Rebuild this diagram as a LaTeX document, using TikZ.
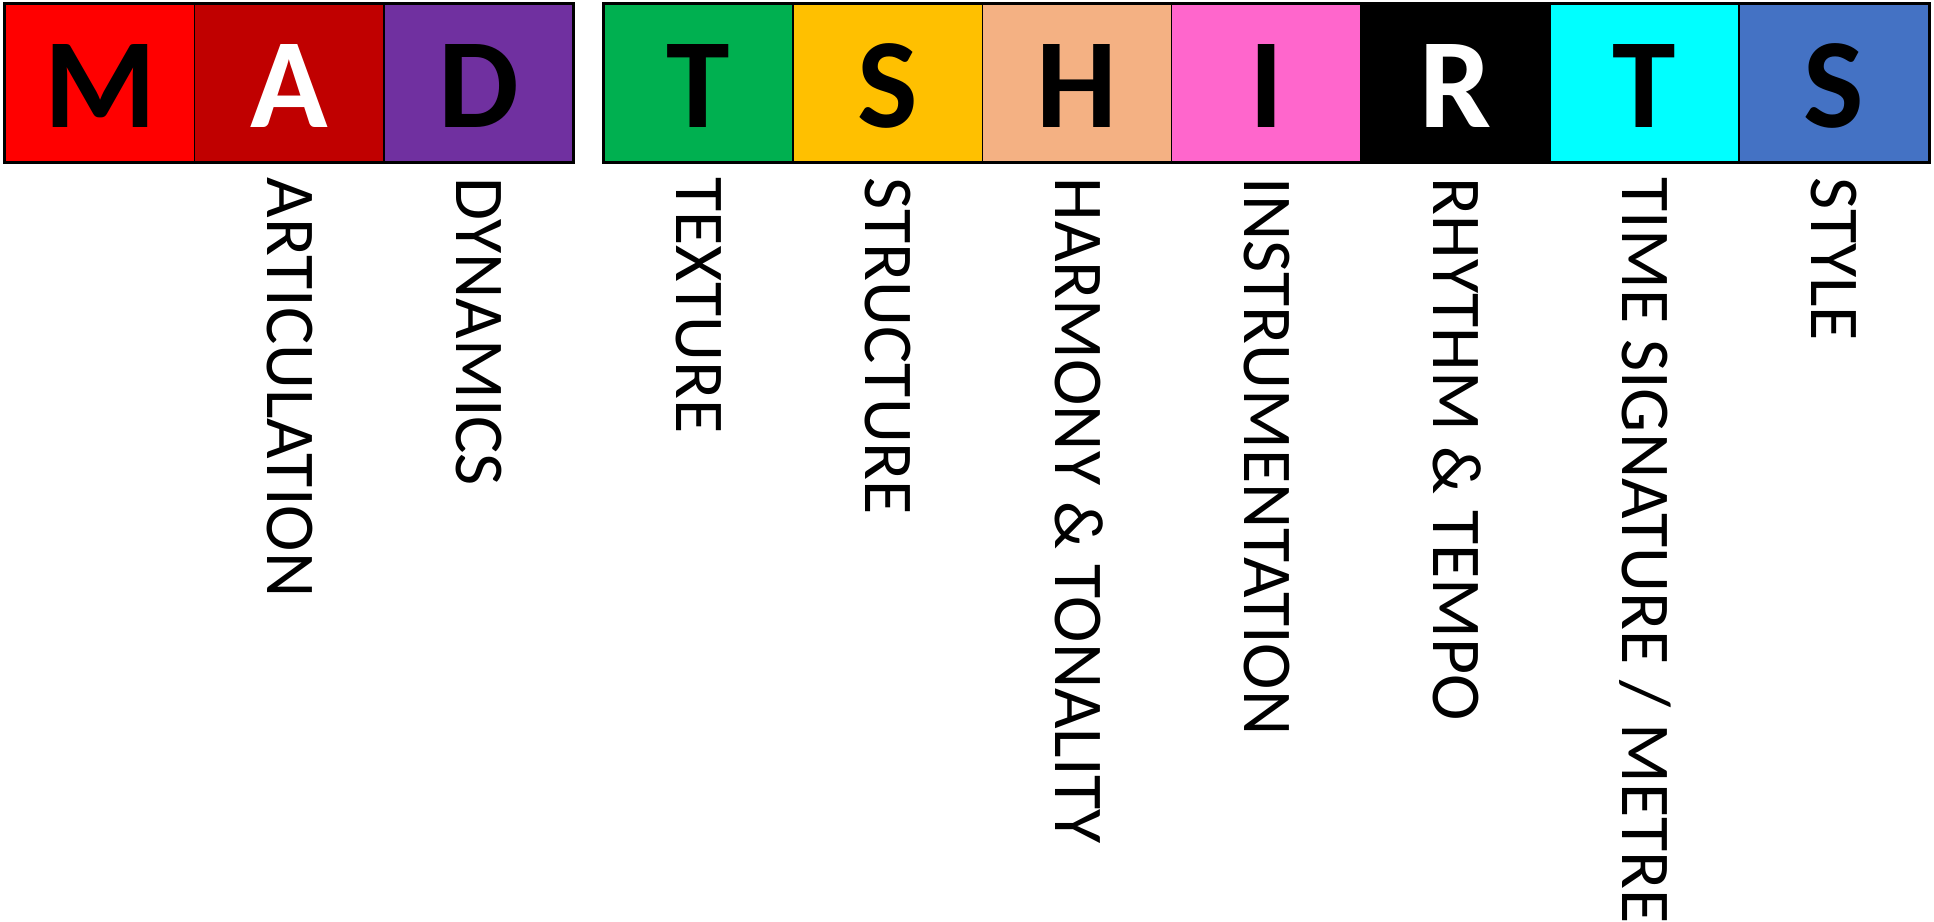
\documentclass[tikz,border=0pt]{standalone}
\usepackage{fontspec}
\setmainfont{Carlito}
\definecolor{madM}{HTML}{FF0000}
\definecolor{madA}{HTML}{C00000}
\definecolor{madD}{HTML}{7030A0}
\definecolor{shT}{HTML}{00B050}
\definecolor{shS}{HTML}{FFC000}
\definecolor{shH}{HTML}{F4B183}
\definecolor{shI}{HTML}{FF66CC}
\definecolor{shR}{HTML}{000000}
\definecolor{shTb}{HTML}{00FFFF}
\definecolor{shSb}{HTML}{4472C4}
\tikzset{
  letterbox/.style={draw=black, line width=0.45pt, inner sep=0pt,
    minimum width=1.892cm, minimum height=1.58cm,
    text height=0.88cm, text depth=0pt,
    font=\fontsize{36.4pt}{38pt}\selectfont\bfseries},
  labeltext/.style={rotate=-90, anchor=west, inner sep=0pt,
    text height=0.44cm, text depth=0pt,
    font=\fontsize{19.9pt}{20pt}\selectfont},
  groupframe/.style={draw=black, line width=0.7pt}
}
\begin{document}
\begin{tikzpicture}[x=0.01cm, y=-0.01cm]
    \useasboundingbox (0,0) rectangle (1934,922);
    % MAD boxes
    \foreach \i/\fillc/\ink/\letter in {1/madM/black/M, 2/madA/white/A, 3/madD/black/D}
    {
        \node[letterbox, fill=\fillc, text=\ink] (mad\i) at ({100.1+189.2*(\i-1)}, 83) {\letter};
    }
    \draw[groupframe] (mad1.north west) rectangle (mad3.south east);
    % MAD words (no word under M)
    \node[labeltext] (madlab2) at (289.3, 177) {ARTICULATION};
    \node[labeltext] (madlab3) at (478.5, 177) {DYNAMICS};
    % TSHIRTS boxes and words
    \foreach \i/\fillc/\ink/\letter/\word in {1/shT/black/T/TEXTURE, 2/shS/black/S/STRUCTURE,
        3/shH/black/H/{HARMONY \& TONALITY}, 4/shI/black/I/INSTRUMENTATION,
        5/shR/white/R/{RHYTHM \& TEMPO}, 6/shTb/black/T/{TIME SIGNATURE / METRE},
        7/shSb/black/S/STYLE}
    {
        \node[letterbox, fill=\fillc, text=\ink] (shirt\i) at ({698.6+189.2*(\i-1)}, 83) {\letter};
        \node[labeltext] (shirtlab\i) at ({698.6+189.2*(\i-1)}, 177) {\word};
    }
    \draw[groupframe] (shirt1.north west) rectangle (shirt7.south east);
\end{tikzpicture}
\end{document}
